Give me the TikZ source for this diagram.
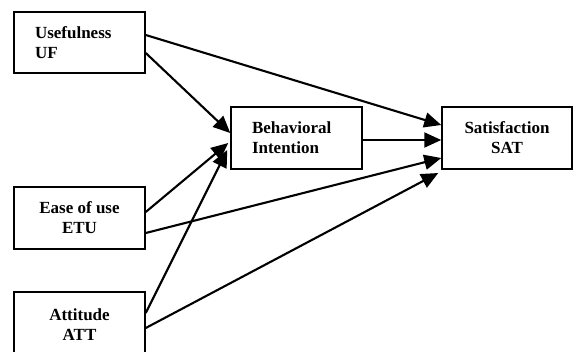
\documentclass[tikz,border=0pt]{standalone}
\usepackage{fontspec}
\setmainfont{Liberation Serif}
\usetikzlibrary{arrows.meta}
\begin{document}
\begin{tikzpicture}[x=1pt,y=-1pt,
  box/.style={draw, line width=1.5pt, rectangle, minimum width=131pt, minimum height=62pt,
    font=\fontsize{17}{20}\selectfont\bfseries, inner sep=0pt},
  leftbox/.style={box, align=left, text width=89pt},
  centbox/.style={box, align=center},
  link/.style={line width=2.1pt, -{Triangle[length=17pt,width=15pt]}}]
\useasboundingbox (0,0) rectangle (573,351);
\clip (0,0) rectangle (573,351);
\node[leftbox, minimum height=61pt] (uf) at (79.5,42.5) {Usefulness\\UF};
\node[centbox] (etu) at (79.5,218) {Ease of use\\ETU};
\node[centbox, minimum height=66pt] (att) at (79.5,325) {Attitude\\ATT};
\node[leftbox] (bi) at (296.5,138) {Behavioral\\Intention};
\node[centbox, minimum width=130pt] (sat) at (507,138) {Satisfaction\\SAT};
\draw[link] ([yshift=7.5pt]uf.east) -- ([yshift=13pt]sat.west);
\draw[link] ([yshift=-10.5pt]uf.east) -- ([yshift=5pt]bi.west);
\draw[link] ([yshift=-2pt]bi.east) -- ([yshift=-2pt]sat.west);
\draw[link] ([yshift=6pt]etu.east) -- ([xshift=-2pt,yshift=-5pt]bi.west);
\draw[link] ([yshift=-15pt]etu.east) -- ([yshift=-20pt]sat.west);
\draw[link] ([yshift=12pt]att.east) -- ([xshift=-3pt,yshift=-12pt]bi.west);
\draw[link] ([yshift=-3pt]att.east) -- ([xshift=-3pt,yshift=-35pt]sat.west);
\end{tikzpicture}
\end{document}
